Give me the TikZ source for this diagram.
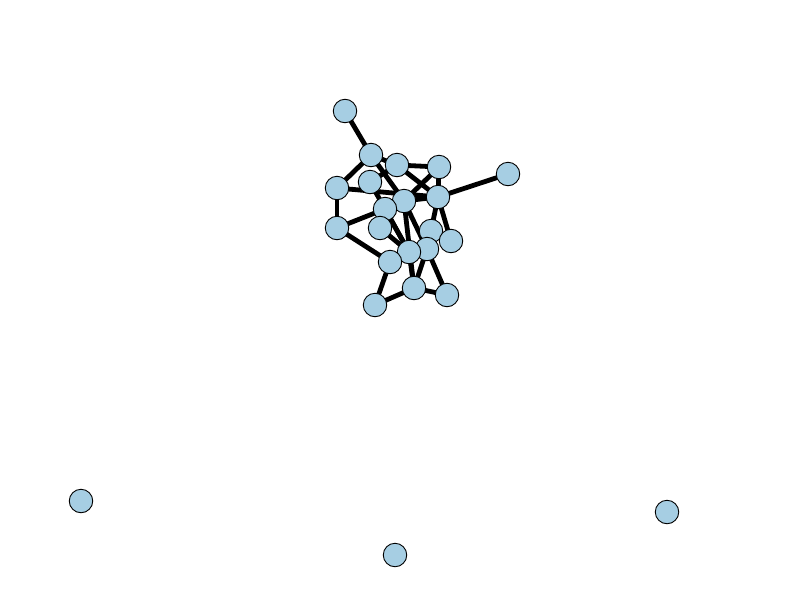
\documentclass[tikz,border=0pt]{standalone}
\definecolor{nodeblue}{RGB}{166,206,227}
\tikzset{
  vert/.style={circle,draw=black,line width=0.9pt,fill=nodeblue,minimum size=23.5pt,inner sep=0pt},
  edge/.style={line width=4.8pt,black}
}
\begin{document}
\begin{tikzpicture}[x=1pt,y=-1pt]
\useasboundingbox (0,0) rectangle (800,600);
\coordinate (A) at (345,111);
\coordinate (B) at (371,155);
\coordinate (C) at (397,165);
\coordinate (D) at (439,167);
\coordinate (E) at (508,174);
\coordinate (F) at (337,188);
\coordinate (G) at (370,182);
\coordinate (H) at (438,197);
\coordinate (I) at (404,201);
\coordinate (J) at (385,209);
\coordinate (K) at (337,228);
\coordinate (L) at (380,228);
\coordinate (M) at (431,231);
\coordinate (N) at (451,241);
\coordinate (O) at (427,249);
\coordinate (P) at (409,252);
\coordinate (Q) at (390,262);
\coordinate (R) at (414,288);
\coordinate (S) at (447,295);
\coordinate (T) at (375,305);
\coordinate (U) at (81,501);
\coordinate (V) at (395,555);
\coordinate (W) at (667,512);
\foreach \a/\b in {A/B,B/F,B/C,B/I,C/D,C/H,C/G,D/I,D/H,H/E,H/I,H/M,H/N,F/K,F/H,K/J,K/Q,G/P,J/I,J/P,L/P,I/R,P/R,O/S,M/O,I/O,O/R,Q/P,Q/T,T/R,R/S}
  \draw[edge] (\a) -- (\b);
\foreach \n in {A,B,C,D,E,F,G,H,I,J,K,L,M,N,O,P,Q,R,S,T,U,V,W}
  \node[vert] (n\n) at (\n) {};
\end{tikzpicture}
\end{document}
